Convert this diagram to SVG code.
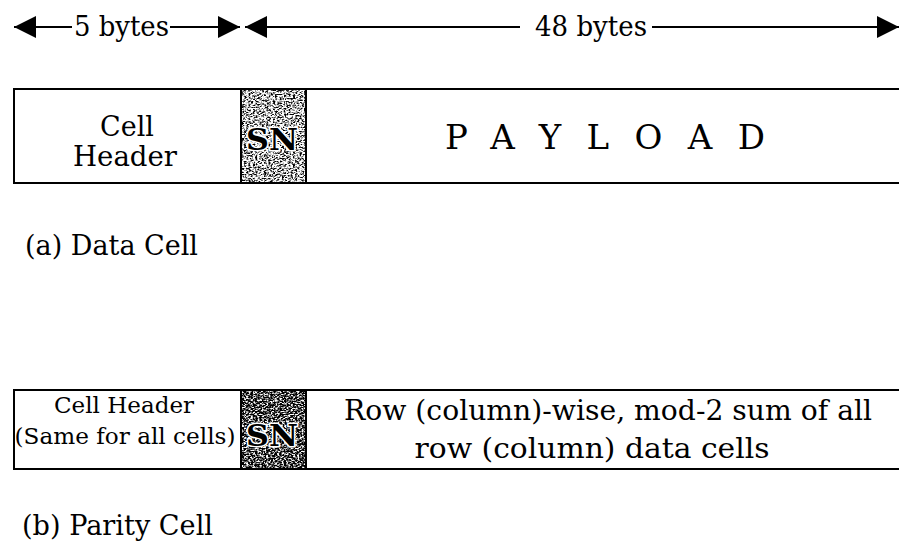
<svg xmlns="http://www.w3.org/2000/svg" width="899" height="554" viewBox="0 0 899 554">
<style>
  text { font-family: "DejaVu Serif", "Liberation Serif", serif; fill: #000; }
  .lbl { font-size: 27px; }
  .hdr { font-size: 27px; }
  .small { font-size: 23px; }
  .sn { font-size: 30px; font-weight: bold; stroke: #fff; stroke-width: 3px; paint-order: stroke; }
  .box { fill: #fff; stroke: #000; stroke-width: 2; }
  .div { stroke: #000; stroke-width: 2; }
  .dim { stroke: #000; stroke-width: 2; fill: none; }
</style>
<defs>
  <marker id="head" viewBox="0 0 10 10" refX="10" refY="5" markerUnits="userSpaceOnUse" markerWidth="22" markerHeight="28" orient="auto-start-reverse">
    <path d="M0,0 L10,5 L0,10 z" fill="#000"/>
  </marker>
  <filter id="speckle" x="0" y="0" width="100%" height="100%">
    <feTurbulence type="fractalNoise" baseFrequency="0.45 0.7" numOctaves="2" seed="4" result="t"/>
    <feColorMatrix in="t" type="matrix" values="0 0 0 0 0  0 0 0 0 0  0 0 0 0 0  -4 0 0 0 2.3"/>
    <feComposite in2="SourceGraphic" operator="in"/>
  </filter>
  <filter id="speckleDark" x="0" y="0" width="100%" height="100%">
    <feTurbulence type="fractalNoise" baseFrequency="0.45 0.7" numOctaves="2" seed="9" result="t"/>
    <feColorMatrix in="t" type="matrix" values="0 0 0 0 0  0 0 0 0 0  0 0 0 0 0  -4 0 0 0 2.7"/>
    <feComposite in2="SourceGraphic" operator="in"/>
  </filter>
</defs>

<g id="connectors">
  <line class="dim" x1="14" y1="27" x2="72" y2="27" marker-start="url(#head)"/>
  <line class="dim" x1="170" y1="27" x2="240" y2="27" marker-end="url(#head)"/>
  <line class="dim" x1="245" y1="27" x2="520" y2="27" marker-start="url(#head)"/>
  <line class="dim" x1="652" y1="27" x2="899" y2="27" marker-end="url(#head)"/>
  <text class="lbl" x="74" y="36" textLength="95" lengthAdjust="spacingAndGlyphs">5 bytes</text>
  <text class="lbl" x="535" y="36" textLength="112" lengthAdjust="spacingAndGlyphs">48 bytes</text>
</g>

<g id="data-cell">
  <rect class="box" x="14" y="89" width="890" height="94"/>
  <rect x="241" y="89" width="65" height="94" fill="#000" filter="url(#speckle)"/>
  <line class="div" x1="241" y1="89" x2="241" y2="183"/>
  <line class="div" x1="306" y1="89" x2="306" y2="183"/>
  <text class="hdr" x="127" y="136" text-anchor="middle">Cell</text>
  <text class="hdr" x="125" y="166" text-anchor="middle" textLength="104" lengthAdjust="spacingAndGlyphs">Header</text>
  <text class="sn" x="272" y="150" text-anchor="middle" textLength="52" lengthAdjust="spacingAndGlyphs">SN</text>
  <text x="445" y="149" style="font-size:34px" textLength="320" lengthAdjust="spacing">PAYLOAD</text>
</g>

<text id="label-a" class="lbl" x="25" y="255" textLength="173" lengthAdjust="spacingAndGlyphs">(a) Data Cell</text>

<g id="parity-cell">
  <rect class="box" x="14" y="390" width="890" height="79"/>
  <rect x="241" y="390" width="65" height="79" fill="#000" filter="url(#speckleDark)"/>
  <line class="div" x1="241" y1="390" x2="241" y2="469"/>
  <line class="div" x1="306" y1="390" x2="306" y2="469"/>
  <text class="small" x="124" y="413" text-anchor="middle" textLength="140" lengthAdjust="spacingAndGlyphs">Cell Header</text>
  <text class="small" x="125" y="444" text-anchor="middle" textLength="221" lengthAdjust="spacingAndGlyphs">(Same for all cells)</text>
  <text class="sn" x="272" y="446" text-anchor="middle" textLength="52" lengthAdjust="spacingAndGlyphs">SN</text>
  <text class="hdr" x="608" y="420" text-anchor="middle" textLength="528" lengthAdjust="spacingAndGlyphs">Row (column)-wise, mod-2 sum of all</text>
  <text class="hdr" x="592" y="458" text-anchor="middle" textLength="355" lengthAdjust="spacingAndGlyphs">row (column) data cells</text>
</g>

<text id="label-b" class="lbl" x="22" y="535" textLength="191" lengthAdjust="spacingAndGlyphs">(b) Parity Cell</text>
</svg>
